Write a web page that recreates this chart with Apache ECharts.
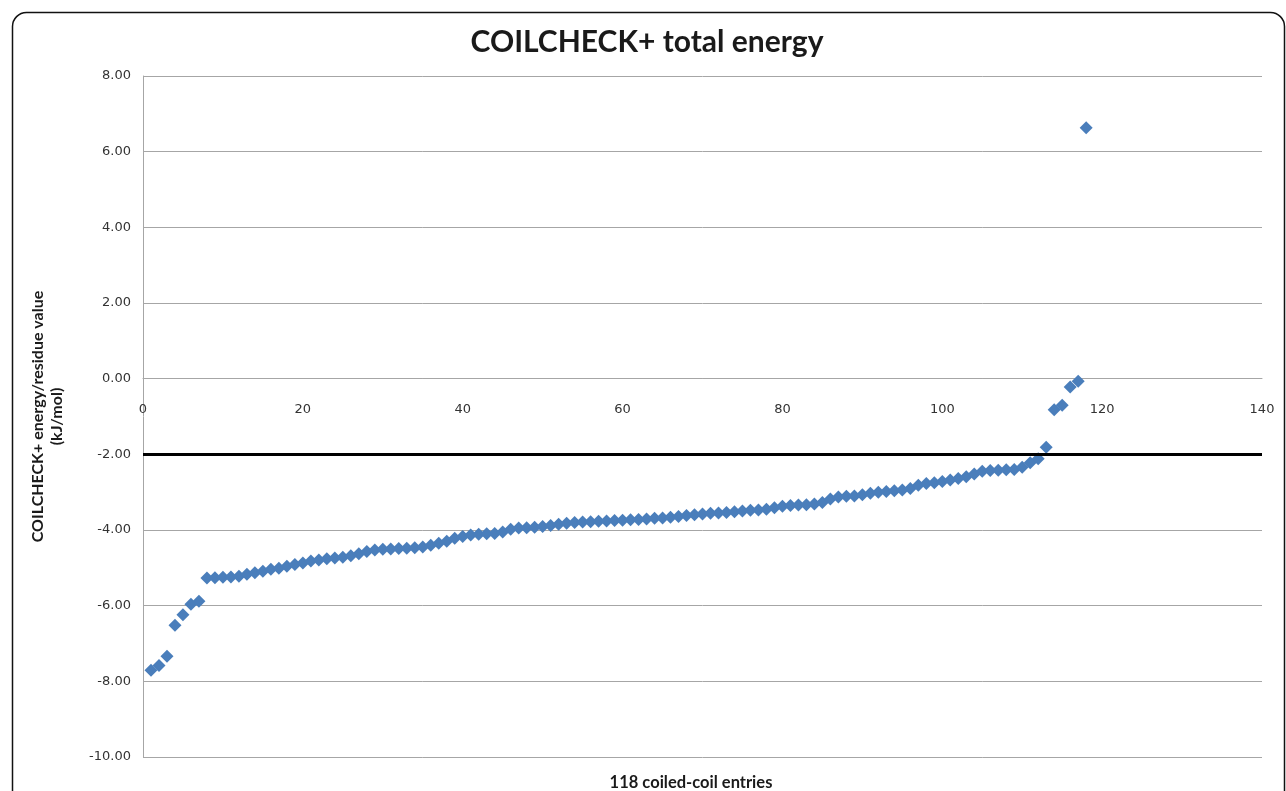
<!DOCTYPE html>
<html>
<head>
<meta charset="utf-8">
<title>COILCHECK+ total energy</title>
<script src="https://cdn.jsdelivr.net/npm/echarts@6/dist/echarts.min.js"></script>
<style>
  html, body { margin: 0; padding: 0; background: #ffffff; }
  #chart { width: 1286px; height: 791px; }
</style>
</head>
<body>
<div id="chart"></div>
<script>
// Entry index (1..118) and COILCHECK+ energy per residue (kJ/mol), sorted ascending
const entryIndex = Array.from({ length: 118 }, (_, i) => i + 1);
const energyPerResidue = [
  -7.71, -7.58, -7.34, -6.52, -6.24, -5.96, -5.88, -5.27, -5.26, -5.25,
  -5.24, -5.22, -5.17, -5.13, -5.09, -5.04, -5.01, -4.96, -4.91, -4.87,
  -4.82, -4.79, -4.76, -4.74, -4.72, -4.68, -4.63, -4.57, -4.53, -4.51,
  -4.50, -4.49, -4.48, -4.47, -4.45, -4.40, -4.35, -4.30, -4.22, -4.17,
  -4.13, -4.11, -4.10, -4.09, -4.05, -3.98, -3.95, -3.94, -3.93, -3.91,
  -3.88, -3.85, -3.82, -3.80, -3.79, -3.78, -3.77, -3.76, -3.75, -3.74,
  -3.73, -3.72, -3.71, -3.69, -3.68, -3.66, -3.64, -3.62, -3.60, -3.58,
  -3.56, -3.55, -3.54, -3.52, -3.50, -3.48, -3.47, -3.45, -3.41, -3.37,
  -3.35, -3.34, -3.33, -3.31, -3.27, -3.18, -3.13, -3.11, -3.10, -3.07,
  -3.03, -3.00, -2.98, -2.96, -2.94, -2.90, -2.82, -2.77, -2.75, -2.72,
  -2.68, -2.64, -2.59, -2.52, -2.45, -2.43, -2.42, -2.41, -2.40, -2.34,
  -2.22, -2.12, -1.81, -0.82, -0.70, -0.22, -0.07, 6.63
];
// Cut-off line for coiled-coil energy
const thresholdValue = -2.0;

const yMin = -10;
const yMax = 8;

const chartTitle = 'COILCHECK+ total energy';
const yAxisTitle = 'COILCHECK+ energy/residue value\n(kJ/mol)';
const xAxisTitle = '118 coiled-coil entries';

const points = entryIndex.map((x, i) => [x, energyPerResidue[i]]);

const gridTop = 76;
const gridBottom = 34;
const chartHeight = 791;
// The category axis crosses the value axis at 0: lift it from the grid bottom to that level
const plotHeight = chartHeight - gridTop - gridBottom;
const zeroLift = plotHeight * (0 - yMin) / (yMax - yMin);

const chart = echarts.init(document.getElementById('chart'), null, { renderer: 'canvas' });

chart.setOption({
  backgroundColor: '#ffffff',
  animation: false,
  title: {
    text: chartTitle,
    left: 642,
    top: 22,
    textAlign: 'center',
    textStyle: {
      fontFamily: 'Lato, "Open Sans", sans-serif',
      fontWeight: 'bold',
      fontSize: 30,
      color: '#1a1a1a'
    }
  },
  grid: { left: 143, right: 24, top: gridTop, bottom: gridBottom, containLabel: false },
  xAxis: {
    type: 'value',
    position: 'bottom',
    offset: -zeroLift,
    min: 0,
    max: 140,
    interval: 20,
    axisLine: { show: true, onZero: false, lineStyle: { color: '#a6a6a6', width: 1 } },
    axisTick: { show: false },
    splitLine: { show: false },
    axisLabel: {
      margin: 24,
      fontFamily: '"DejaVu Sans", sans-serif',
      fontSize: 13,
      color: '#333333'
    }
  },
  yAxis: {
    type: 'value',
    min: yMin,
    max: yMax,
    interval: 2,
    name: yAxisTitle,
    nameLocation: 'middle',
    nameRotate: 90,
    nameGap: 77,
    nameTextStyle: {
      fontFamily: 'Lato, "Open Sans", sans-serif',
      fontWeight: 'bold',
      fontSize: 16,
      color: '#1a1a1a',
      lineHeight: 19,
      align: 'center'
    },
    axisLine: { show: true, onZero: false, lineStyle: { color: '#a6a6a6', width: 1 } },
    axisTick: { show: false },
    splitLine: { show: true, lineStyle: { color: '#a6a6a6', width: 1 } },
    axisLabel: {
      margin: 12,
      fontFamily: '"DejaVu Sans", sans-serif',
      fontSize: 13,
      color: '#333333',
      formatter: v => v.toFixed(2)
    }
  },
  series: [{
    type: 'scatter',
    data: points,
    symbol: 'diamond',
    symbolSize: 13,
    itemStyle: { color: '#4a7ebb', opacity: 1 },
    markLine: {
      silent: true,
      symbol: 'none',
      label: { show: false },
      lineStyle: { color: '#000000', width: 3, type: 'solid' },
      data: [{ yAxis: thresholdValue }]
    }
  }],
  graphic: [
    {
      type: 'rect',
      left: 10,
      top: 10,
      shape: { width: 1272, height: 810, r: 14 },
      style: { fill: 'none', stroke: '#111111', lineWidth: 1.5 },
      silent: true
    },
    {
      type: 'text',
      x: 691,
      y: 783,
      style: {
        text: xAxisTitle,
        align: 'center',
        verticalAlign: 'middle',
        fontFamily: 'Lato, "Open Sans", sans-serif',
        fontWeight: 'bold',
        fontSize: 16.5,
        fill: '#1a1a1a'
      }
    }
  ]
});
</script>
</body>
</html>
